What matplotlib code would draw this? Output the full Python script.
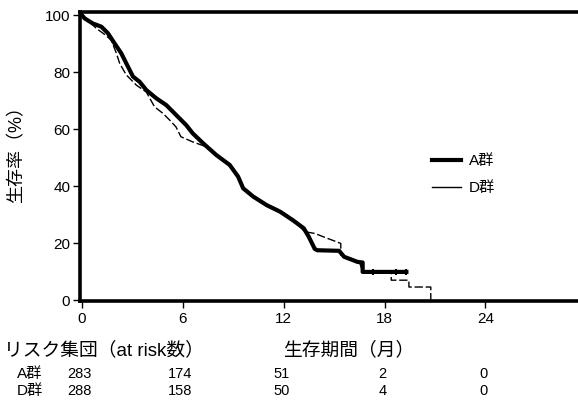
import matplotlib
matplotlib.use("Agg")
import matplotlib.pyplot as plt
from matplotlib.lines import Line2D

plt.rcParams['font.family'] = ['Liberation Sans Narrow', 'Liberation Sans', 'Noto Sans CJK JP', 'DejaVu Sans']

# ---- data (curve vertices) ----
groups = ["A群", "D群"]
a_time = [0, 0.18, 0.67, 1.17, 1.56, 1.96, 2.35, 2.75, 3.05, 3.44, 3.84, 4.43, 5.03, 5.62,
          6.21, 6.6, 7.22, 8.0, 8.8, 9.3, 9.6, 10.2, 11.0, 11.8, 12.56, 13.2, 13.5, 13.85,
          14.0, 15.3, 15.6, 16.4, 16.7, 16.7, 19.3]
a_surv = [100, 98.8, 97, 95.9, 93.6, 90, 86.6, 81.9, 78.4, 76.6, 73.7, 70.8, 68.4, 64.9,
          61.4, 58.5, 55, 50.9, 47.4, 43.3, 39.2, 36.3, 33.3, 31, 28, 25.2, 22.2, 18.0,
          17.5, 17.3, 15.2, 13.4, 13.2, 9.9, 9.9]
a_censor_time = [17.3, 18.7, 19.3]
a_censor_surv = [9.9, 9.9, 9.9]

d_time = [0, 0.4, 0.87, 1.27, 1.76, 2.06, 2.26, 2.65, 3.25, 3.84, 4.33, 4.83, 5.22, 5.6,
          5.9, 6.6, 7.45, 8.0, 8.8, 9.3, 9.6, 10.2, 11.0, 11.8, 12.56, 13.25, 13.85, 14.64,
          15.4, 15.4, 16.0, 16.5, 16.7, 18.4, 18.4, 19.45, 19.45, 20.75, 20.75]
d_surv = [100, 98, 95.3, 93.6, 91.2, 86.6, 83, 79, 75.4, 73, 67.8, 65.5, 63.2, 60.8,
          57.3, 55.5, 53.7, 51, 47.6, 43, 39.6, 36.6, 33.7, 31.4, 28.4, 24, 23.4, 21.6,
          19.9, 15.8, 14.6, 13.5, 10, 9.6, 7, 7, 4.6, 4.6, 0]

x_ticks = [0, 6, 12, 18, 24]
y_ticks = [0, 20, 40, 60, 80, 100]
risk_a = [283, 174, 51, 2, 0]
risk_d = [288, 158, 50, 4, 0]

# ---- figure ----
fig = plt.figure(figsize=(5.78, 4.05), dpi=100)
ax = fig.add_axes([0.1384, 0.2568, 0.8616, 0.7132])

ax.plot(a_time, a_surv, color='black', lw=3.0, solid_joinstyle='round', zorder=3)
ax.plot(a_censor_time, a_censor_surv, ls='none', marker='|', color='black', ms=5, mew=1.5, zorder=3)
ax.plot(d_time, d_surv, color='black', lw=1.0, ls=(0, (6, 2)), zorder=4)

ax.set_xlim(-0.1, 29.5)
ax.set_ylim(-0.3, 101)
ax.set_xticks(x_ticks)
ax.set_yticks(y_ticks)
ax.tick_params(axis='both', direction='out', length=5, width=1, labelsize=11, colors='black')
ax.tick_params(axis='x', pad=3)
ax.tick_params(axis='y', pad=2)

ax.spines['right'].set_visible(False)
for s in ['left', 'top', 'bottom']:
    ax.spines[s].set_linewidth(2.6)

handles = [Line2D([], [], color='black', lw=3.0), Line2D([], [], color='black', lw=1.0)]
ax.legend(handles, groups, loc='upper left', bbox_to_anchor=(0.68, 0.555), frameon=False,
          fontsize=11, handlelength=1.9, handletextpad=0.5, labelspacing=0.85)

fig.text(17 / 578, 1 - 150 / 405, "生存率（%）", rotation=90, ha='center', va='center', fontsize=13)

fig.text(4 / 578, 1 - 350 / 405, "リスク集団（at risk数）", ha='left', va='center', fontsize=13.5)
fig.text(349 / 578, 1 - 350 / 405, "生存期間（月）", ha='center', va='center', fontsize=13.5)

for row, (name, vals) in enumerate(zip(groups, [risk_a, risk_d])):
    ypix = 374 + row * 17
    fig.text(30 / 578, 1 - ypix / 405, name, ha='center', va='center', fontsize=11)
    for t, v in zip(x_ticks, vals):
        xpix = 80 + t * 16.85 - 1
        fig.text(xpix / 578, 1 - ypix / 405, str(v), ha='center', va='center', fontsize=10.5)

fig.savefig("out.png", dpi=100)
